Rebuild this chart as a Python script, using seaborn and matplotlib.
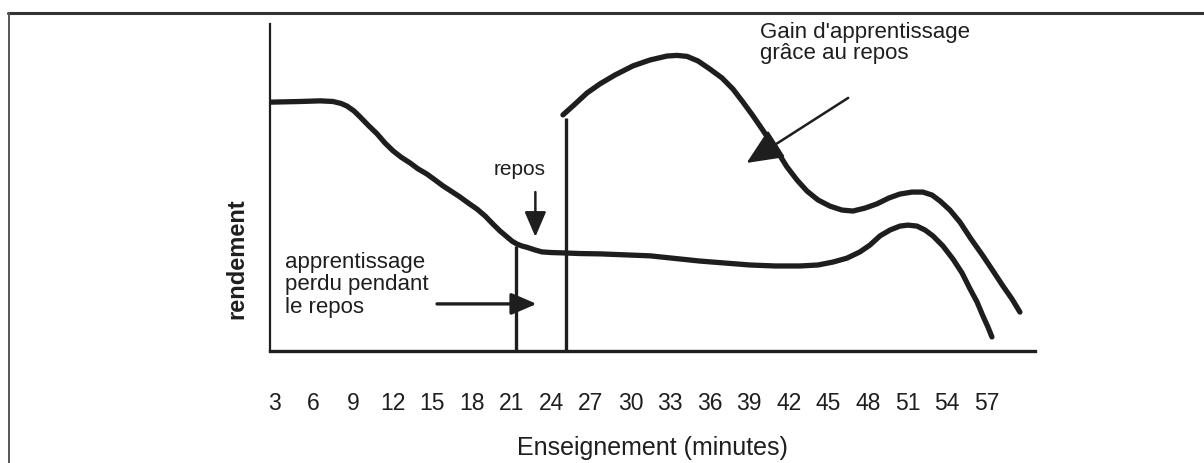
import pandas as pd
import matplotlib.pyplot as plt
import seaborn as sns
from matplotlib.lines import Line2D

# minutes of teaching (x) and performance (arbitrary units, y)
minutes_ticks = list(range(3, 58, 3))

sans_repos_x = [2.7, 4.97, 6.49, 7.47, 8.08, 8.53, 9.06, 9.52, 10.12, 10.81, 11.41, 12.02,
                12.62, 13.31, 13.91, 14.59, 15.20, 15.80, 16.41, 17.09, 17.70, 18.38, 18.99,
                19.59, 20.12, 20.65, 21.03, 21.41, 21.79, 22.17, 22.77, 23.30, 24.06, 24.89,
                26.18, 27.70, 29.59, 31.49, 33.38, 35.27, 37.17, 39.06, 40.95, 42.85, 44.21,
                45.35, 46.41, 47.39, 48.15, 48.91, 49.67, 50.42, 51.03, 51.71, 52.32, 52.92,
                53.68, 54.44, 55.12, 55.73, 56.26, 56.71, 57.09, 57.39]
sans_repos_y = [76.1, 76.3, 76.5, 76.3, 75.7, 74.9, 73.4, 71.6, 69.1, 66.4, 63.6, 61.2,
                59.3, 57.5, 55.7, 54.1, 52.3, 50.5, 48.9, 47.1, 45.3, 43.4, 41.3,
                38.8, 36.7, 34.9, 33.6, 32.7, 32.1, 31.7, 30.9, 30.3, 30.1, 30.0,
                29.8, 29.7, 29.4, 29.1, 28.3, 27.5, 26.9, 26.3, 26.0, 26.0, 26.3,
                27.2, 28.4, 30.3, 32.4, 35.2, 37.0, 38.2, 38.5, 38.2, 37.0, 35.2,
                32.1, 28.1, 23.9, 19.0, 15.0, 10.7, 7.3, 4.3]

avec_repos_x = [24.89, 25.80, 26.71, 27.70, 28.83, 30.20, 31.49, 32.77, 33.53, 34.29, 35.12,
                36.03, 36.94, 37.77, 38.53, 39.29, 39.97, 40.58, 41.26, 41.86, 42.62, 43.38,
                44.21, 45.12, 46.03, 46.86, 47.77, 48.68, 49.59, 50.42, 51.33, 52.16, 52.85,
                53.45, 54.21, 54.97, 55.80, 56.71, 57.47, 58.22, 58.91, 59.51]
avec_repos_y = [72.2, 75.5, 78.9, 81.7, 84.4, 87.2, 89.0, 90.2, 90.4, 90.1, 88.7,
                86.2, 83.5, 80.1, 76.1, 71.9, 67.9, 64.2, 60.2, 56.3, 52.3, 48.9,
                46.2, 44.3, 43.1, 42.8, 43.7, 45.0, 46.8, 48.0, 48.6, 48.6, 47.7,
                45.9, 43.1, 39.4, 34.3, 29.1, 24.5, 19.9, 15.9, 11.9]

repos_debut, repos_fin = 21.3, 25.1
hauteur_debut, hauteur_fin = 32.1, 71.3

ink = "#1e1e1e"

sns.set_style("white")
plt.rcParams["font.family"] = ["Liberation Sans", "DejaVu Sans"]

fig = plt.figure(figsize=(12.04, 4.64), dpi=100)
ax = fig.add_axes([0.2243, 0.2414, 0.6353, 0.7047])

df1 = pd.DataFrame({"minutes": sans_repos_x, "rendement": sans_repos_y})
df2 = pd.DataFrame({"minutes": avec_repos_x, "rendement": avec_repos_y})
sns.lineplot(data=df1, x="minutes", y="rendement", ax=ax, color=ink, lw=3.8,
             sort=False, solid_capstyle="round", solid_joinstyle="round")
sns.lineplot(data=df2, x="minutes", y="rendement", ax=ax, color=ink, lw=3.8,
             sort=False, solid_capstyle="round", solid_joinstyle="round")

# rest period boundaries
ax.vlines([repos_debut, repos_fin], 0, [hauteur_debut, hauteur_fin], color=ink, lw=2.4)

ax.set_xlim(2.7, 60.65)
ax.set_ylim(0, 100)
ax.set_xticks(minutes_ticks)
ax.set_yticks([])
ax.tick_params(axis="x", length=0, pad=29, labelsize=16.5, labelcolor=ink)

sns.despine(ax=ax)
ax.spines["left"].set_linewidth(1.6)
ax.spines["bottom"].set_linewidth(2.4)
ax.spines["left"].set_color(ink)
ax.spines["bottom"].set_color(ink)

ax.set_xlabel("Enseignement (minutes)", fontsize=18, color=ink, labelpad=15)
ax.set_ylabel("rendement", fontsize=17, fontweight="bold", color=ink, va="center")
ax.yaxis.set_label_coords(-0.043, 0.285)

# annotations
ax.text(21.6, 55.7, "repos", ha="center", va="center", fontsize=15, color=ink)
ax.annotate("", xy=(22.8, 34.9), xytext=(22.8, 48.6),
            arrowprops=dict(arrowstyle="-|>,head_length=0.7,head_width=0.3",
                            color=ink, lw=1.8, mutation_scale=22, shrinkA=0, shrinkB=0))

ax.text(3.85, 20.5, "apprentissage\nperdu pendant\nle repos", ha="left", va="center",
        fontsize=16, color=ink, linespacing=1.1)
ax.annotate("", xy=(22.9, 14.4), xytext=(15.35, 14.4),
            arrowprops=dict(arrowstyle="-|>,head_length=0.7,head_width=0.3",
                            color=ink, lw=2.4, mutation_scale=22, shrinkA=0, shrinkB=0))

ax.text(39.8, 94.6, "Gain d'apprentissage\ngrâce au repos", ha="left", va="center",
        fontsize=16, color=ink, linespacing=1.0, clip_on=False)
ax.annotate("", xy=(38.8, 57.5), xytext=(46.5, 77.4),
            arrowprops=dict(arrowstyle="-|>,head_length=0.9,head_width=0.4",
                            color=ink, lw=1.8, mutation_scale=25, shrinkA=0, shrinkB=0))

# scanned page frame
fig.add_artist(Line2D([0.0066, 1.0], [0.970, 0.970], color="#333333", lw=2.2))
fig.add_artist(Line2D([0.0075, 0.0075], [0.0, 0.970], color="#555555", lw=1.4))

fig.savefig("out.png", dpi=100)
